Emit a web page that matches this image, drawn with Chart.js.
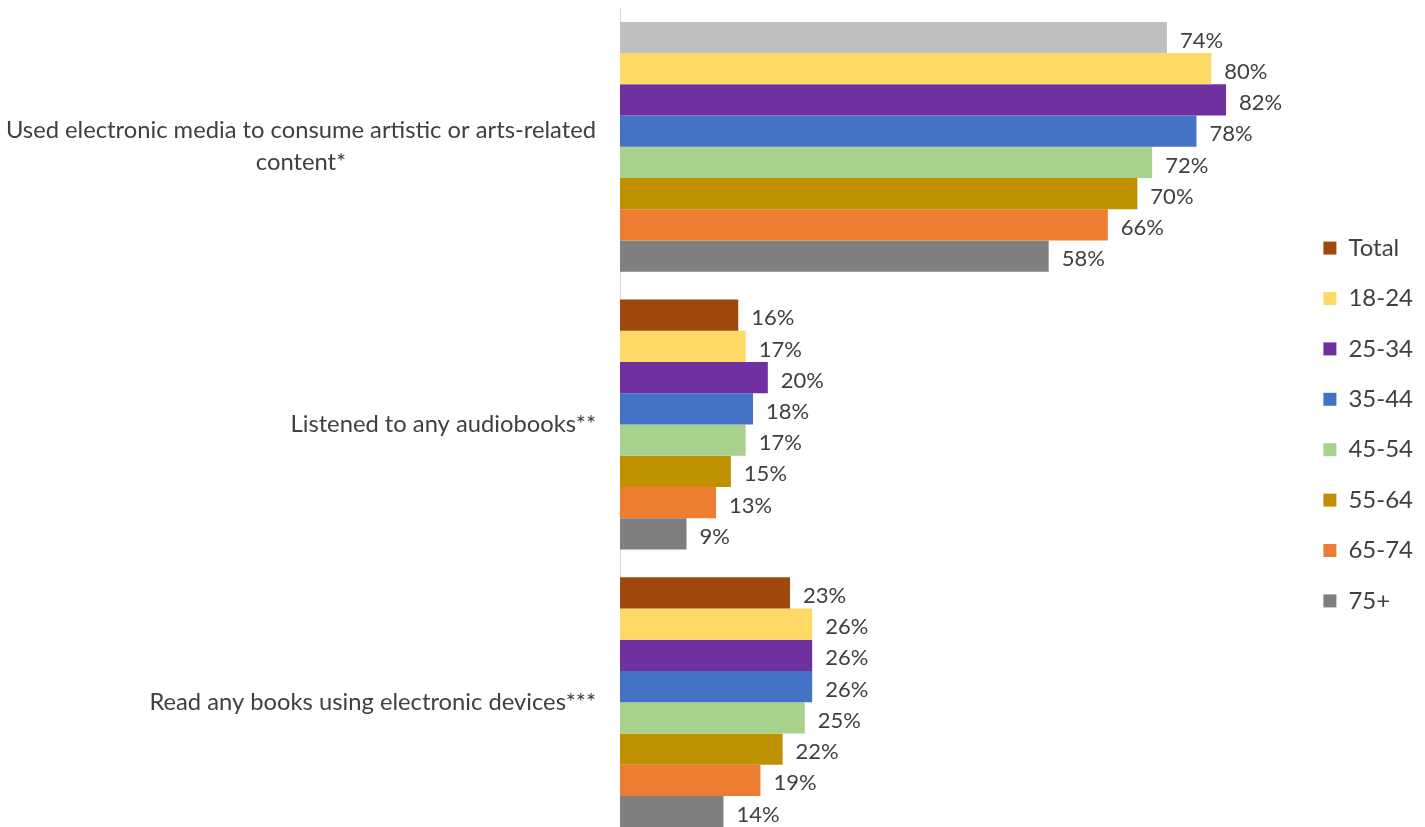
<!DOCTYPE html>
<html>
<head>
<meta charset="utf-8">
<script src="https://cdn.jsdelivr.net/npm/chart.js@4/dist/chart.umd.min.js"></script>
<style>
  html, body { margin: 0; padding: 0; background: #fff; overflow: hidden; }
  #wrap { width: 1425px; height: 827px; overflow: hidden; position: relative; }
  #box { width: 1425px; height: 845px; position: absolute; left: 0; top: 0; }
</style>
</head>
<body>
<div id="wrap"><div id="box"><canvas id="c"></canvas></div></div>
<script>
const categories = [
  ["Used electronic media to consume artistic or arts-related", "content*"],
  ["Listened to any audiobooks**"],
  ["Read any books using electronic devices***"]
];
const seriesNames = ["Total", "18-24", "25-34", "35-44", "45-54", "55-64", "65-74", "75+"];
const total = [74, 16, 23];
const age18_24 = [80, 17, 26];
const age25_34 = [82, 20, 26];
const age35_44 = [78, 18, 26];
const age45_54 = [72, 17, 25];
const age55_64 = [70, 15, 22];
const age65_74 = [66, 13, 19];
const age75plus = [58, 9, 14];

const seriesValues = [total, age18_24, age25_34, age35_44, age45_54, age55_64, age65_74, age75plus];
const seriesColors = ["#9E480E", "#FFD966", "#7030A0", "#4472C4", "#A9D18E", "#BF9000", "#ED7D31", "#7F7F7F"];
const firstTotalColor = "#BFBFBF";

const FONT = "Lato, 'Open Sans', sans-serif";
const TEXT = "#404040";

const datasets = seriesNames.map((name, i) => ({
  label: name,
  data: seriesValues[i],
  backgroundColor: i === 0
    ? (ctx) => (ctx.type === 'data' && ctx.dataIndex === 0 ? firstTotalColor : seriesColors[0])
    : seriesColors[i],
  borderWidth: 0,
  categoryPercentage: 0.9,
  barPercentage: 1.0
}));

const valueLabels = {
  id: 'valueLabels',
  afterDatasetsDraw(chart) {
    const ctx = chart.ctx;
    ctx.save();
    ctx.font = "22px " + FONT;
    ctx.fillStyle = TEXT;
    ctx.textAlign = 'left';
    ctx.textBaseline = 'middle';
    chart.data.datasets.forEach((ds, di) => {
      const meta = chart.getDatasetMeta(di);
      meta.data.forEach((bar, i) => {
        ctx.fillText(ds.data[i] + "%", bar.x + 13, bar.y + 3);
      });
    });
    ctx.restore();
  }
};

const categoryLabels = {
  id: 'categoryLabels',
  afterDraw(chart) {
    const ctx = chart.ctx;
    const y = chart.scales.y;
    ctx.save();
    ctx.font = "23.75px " + FONT;
    ctx.fillStyle = TEXT;
    ctx.textAlign = 'center';
    ctx.textBaseline = 'middle';
    const right = chart.chartArea.left - 24;
    const lh = 32;
    categories.forEach((lines, i) => {
      const cy = y.getPixelForValue(i);
      const maxW = Math.max(...lines.map(l => ctx.measureText(l).width));
      const cx = right - maxW / 2;
      const y0 = cy - (lines.length - 1) * lh / 2;
      lines.forEach((l, k) => ctx.fillText(l, cx, y0 + k * lh));
    });
    ctx.restore();
  }
};

new Chart(document.getElementById('c'), {
  type: 'bar',
  data: { labels: categories.map(l => l.join(' ')), datasets },
  options: {
    indexAxis: 'y',
    responsive: true,
    maintainAspectRatio: false,
    animation: false,
    layout: { padding: { left: 620, top: 8, bottom: 4, right: 2 } },
    scales: {
      x: {
        min: 0, max: 91.6,
        display: false,
        grid: { display: false }
      },
      y: {
        ticks: { display: false },
        grid: { display: false, drawTicks: false },
        border: { display: true, color: "#D9D9D9", width: 1 }
      }
    },
    plugins: {
      legend: {
        position: 'right',
        labels: {
          font: { size: 24, family: FONT },
          color: TEXT,
          boxWidth: 13,
          boxHeight: 13,
          padding: 26.4,
          generateLabels(chart) {
            return chart.data.datasets.map((ds, i) => ({
              text: ds.label,
              fillStyle: seriesColors[i],
              strokeStyle: seriesColors[i],
              lineWidth: 0,
              fontColor: TEXT,
              hidden: !chart.isDatasetVisible(i),
              datasetIndex: i
            }));
          }
        }
      },
      tooltip: { enabled: false }
    }
  },
  plugins: [valueLabels, categoryLabels]
});
</script>
</body>
</html>
